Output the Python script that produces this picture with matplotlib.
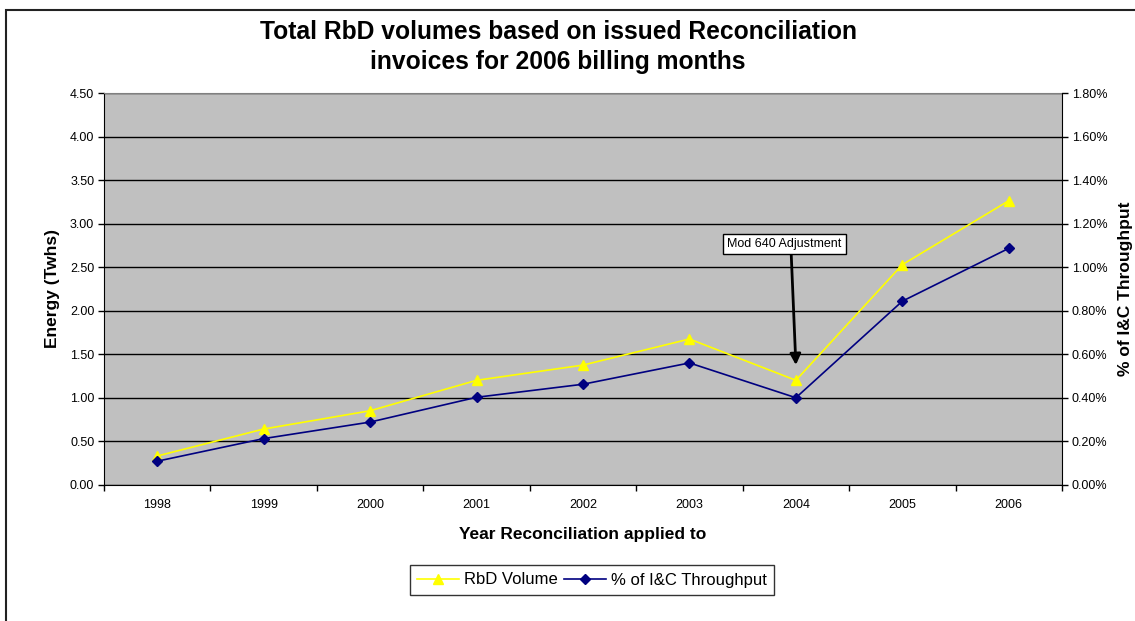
import numpy as np
import matplotlib
matplotlib.use("Agg")
import matplotlib.pyplot as plt
from matplotlib.patches import Rectangle
from matplotlib.ticker import FuncFormatter, MultipleLocator

plt.rcParams['font.family'] = ['Liberation Sans', 'DejaVu Sans']

# data
years = ['1998', '1999', '2000', '2001', '2002', '2003', '2004', '2005', '2006']
rbd_volume = [0.33, 0.64, 0.85, 1.20, 1.375, 1.675, 1.20, 2.53, 3.265]   # TWh
ic_throughput = [0.108, 0.212, 0.288, 0.402, 0.462, 0.560, 0.400, 0.844, 1.087]  # %

W, H = 1135, 621
fig = plt.figure(figsize=(W / 100, H / 100), dpi=100)

# plot area in pixels: left 104, right 1062, top 93, bottom 485
L, R, T, B = 104, 1062, 93.3, 484.7
ax = fig.add_axes([L / W, 1 - B / H, (R - L) / W, (B - T) / H])
ax2 = ax.twinx()

x = np.arange(len(years))

ax.set_facecolor('#C0C0C0')
ax.set_xlim(-0.5, len(years) - 0.5)
ax.set_ylim(0, 4.5)
ax.yaxis.set_major_locator(MultipleLocator(0.5))
ax.yaxis.set_major_formatter(FuncFormatter(lambda v, p: '%.2f' % v))
ax.grid(axis='y', color='black', lw=1)
ax.set_axisbelow(True)

ax.set_xticks(np.arange(-0.5, len(years), 1))
ax.set_xticklabels([])
ax.set_xticks(x, minor=True)
ax.set_xticklabels(years, minor=True)
ax.tick_params(axis='x', which='minor', length=0, labelsize=9, pad=10)
ax.tick_params(axis='x', which='major', direction='out', length=4, width=1)
ax.tick_params(axis='y', direction='out', length=4, width=1, labelsize=9, pad=3)

ax2.set_ylim(0, 1.8)
ax2.yaxis.set_major_locator(MultipleLocator(0.2))
ax2.yaxis.set_major_formatter(FuncFormatter(lambda v, p: '%.2f%%' % v))
ax2.tick_params(axis='y', direction='out', length=4, width=1, labelsize=9, pad=3)

for a in (ax, ax2):
    for s in a.spines.values():
        s.set_visible(False)
ax.spines['top'].set_visible(True)
ax.spines['top'].set_color('#808080')
ax.spines['left'].set_visible(True)
ax.spines['bottom'].set_visible(True)
ax2.spines['right'].set_visible(True)

l1, = ax.plot(x, rbd_volume, color='#FFFF00', lw=1.2, marker='^', ms=7,
              label='RbD Volume', zorder=3)
l2, = ax2.plot(x, ic_throughput, color='#000080', lw=1.2, marker='D', ms=5,
               label='% of I&C Throughput', zorder=3)

ax.set_xlabel('Year Reconciliation applied to', fontsize=12.5, fontweight='bold', labelpad=12)
ax.set_ylabel('Energy (Twhs)', fontsize=12.5, fontweight='bold', labelpad=7)
ax2.set_ylabel('% of I&C Throughput', fontsize=12.5, fontweight='bold', labelpad=8)

ax2.annotate('Mod 640 Adjustment', xy=(6.0, 1.376 * 0.4), xytext=(5.89, 2.767 * 0.4),
             ha='center', va='center', fontsize=9,
             bbox=dict(boxstyle='square,pad=0.35', fc='white', ec='black', lw=1),
             arrowprops=dict(arrowstyle='-|>', color='black', lw=2, mutation_scale=16,
                             relpos=(0.56, 0), shrinkA=0, shrinkB=0))

fig.text(558 / W, 1 - 32 / H, 'Total RbD volumes based on issued Reconciliation',
         ha='center', va='center', fontsize=17.7, fontweight='bold')
fig.text(558 / W, 1 - 62 / H, 'invoices for 2006 billing months',
         ha='center', va='center', fontsize=17.7, fontweight='bold')

leg = fig.legend(handles=[l1, l2], loc='center', bbox_to_anchor=(592 / W, 1 - 580 / H),
                 ncol=2, fontsize=12, frameon=True, fancybox=False, edgecolor='black',
                 handlelength=2.5, handletextpad=0.3, columnspacing=0.4,
                 borderpad=0.45, borderaxespad=0)
leg.get_frame().set_linewidth(1)

# outer chart border (cut off at right and bottom)
fig.add_artist(Rectangle((6 / W, -0.1), 1.2, 1.1 - 10 / H, transform=fig.transFigure,
                         fill=False, ec='#222222', lw=1.5))

fig.savefig('out.png', dpi=100)
